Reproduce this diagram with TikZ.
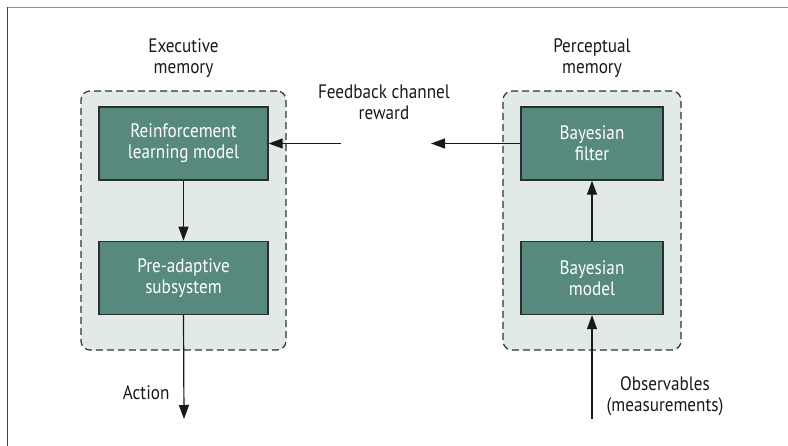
\documentclass[tikz,border=0pt]{standalone}
\usepackage{fontspec}
\setmainfont{PT Sans}[FakeStretch=0.88]
\usepackage{xcolor}
\usetikzlibrary{positioning,arrows.meta,backgrounds}
\definecolor{boxteal}{HTML}{57897E}
\definecolor{groupbg}{HTML}{E1EAE7}
\definecolor{edgegray}{HTML}{2E2E2E}
\begin{document}
\begin{tikzpicture}[x=1pt,y=-1pt,font=\fontsize{19.5}{21}\selectfont,
		>={Triangle[length=14pt,width=10pt]},
		block/.style={draw=edgegray, line width=1.4pt, fill=boxteal, text=white,
			align=center, inner sep=0pt, minimum height=73pt},
		group/.style={draw=black!80, dash pattern=on 7pt off 4pt, line width=1.2pt,
			fill=groupbg, rounded corners=9pt, inner sep=0pt},
		label/.style={align=center, text=black!90},
		link/.style={->, line width=1.2pt, black!90}]
		\useasboundingbox (0,0) rectangle (788,446);
		% outer frame
		\draw[black!45, line width=1.5pt] (7,7.5) -- (788,7.5);
		\draw[black!75, line width=1.5pt] (7.5,7) -- (7.5,446);
		% executive side
		\node[block, minimum width=169pt] (rl) at (183.5,143.5) {Reinforcement\\learning model};
		\node[block, minimum width=169pt, below=60pt of rl] (pre) {Pre-adaptive\\subsystem};
		% perceptual side
		\node[block, minimum width=142pt] (bf) at (592,143.5) {Bayesian\\filter};
		\node[block, minimum width=142pt, below=60pt of bf] (bm) {Bayesian\\model};
		\begin{scope}[on background layer]
			\node[group, minimum width=205pt, minimum height=259pt] (exe) at (183.5,220.5) {};
			\node[group, minimum width=178pt, minimum height=259pt] (per) at (592,220.5) {};
		\end{scope}
		\node[label] (exelab) at (183.5,58) {Executive\\memory};
		\node[label] (perlab) at (592,58) {Perceptual\\memory};
		\node[label] (fblab) at (384,102) {Feedback channel\\reward};
		\node[label, anchor=east] (actlab) at (173,393) {Action};
		\node[label] (obslab) at (665,396) {Observables\\(measurements)};
		\coordinate (fbin) at (341,143.5);
		\coordinate (fbout) at (431,143.5);
		\coordinate (act) at (184,419);
		\coordinate (obs) at (592,419);
		\draw[link] (rl) -- (pre);
		\draw[link] (bm) -- (bf);
		\draw[link] (fbin) -- (rl.east);
		\draw[link] (bf.west) -- (fbout);
		\draw[link] (pre.south) -- (act);
		\draw[link] (obs) -- (bm.south);
	\end{tikzpicture}
\end{document}
